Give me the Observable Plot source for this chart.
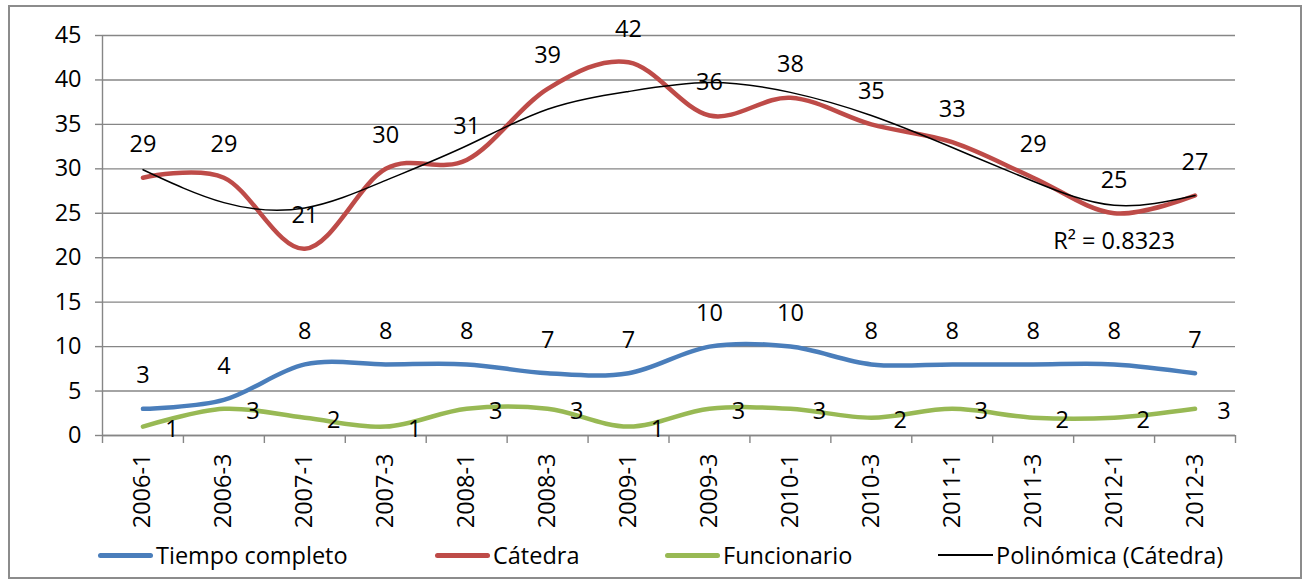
<!DOCTYPE html>
<html>
<head>
<meta charset="utf-8">
<script src="https://cdn.jsdelivr.net/npm/d3@7"></script>
<script src="https://cdn.jsdelivr.net/npm/@observablehq/plot@0.6"></script>
<style>
  html, body { margin: 0; padding: 0; background: #fff; }
  body { width: 1305px; height: 582px; position: relative; overflow: hidden; font-family: "Open Sans", sans-serif; }
  #frame { position: absolute; left: 8px; top: 5px; width: 1294px; height: 574px; border: 2px solid #8c8c8c; box-sizing: border-box; }
  #chart { position: absolute; left: 0; top: 0; }
  #legend { position: absolute; left: 0; top: 537px; width: 1305px; height: 36px; font-size: 23.5px; color: #000; }
  .item { position: absolute; top: 0; display: flex; align-items: center; height: 36px; white-space: nowrap; }
  .sw { width: 55px; height: 5px; border-radius: 3px; margin-right: 3px; }
</style>
</head>
<body>
<div id="frame"></div>
<div id="chart"></div>
<div id="legend"></div>
<script>
const categories = ["2006-1","2006-3","2007-1","2007-3","2008-1","2008-3","2009-1","2009-3","2010-1","2010-3","2011-1","2011-3","2012-1","2012-3"];
const tiempoCompleto = [3,4,8,8,8,7,7,10,10,8,8,8,8,7];
const catedra = [29,29,21,30,31,39,42,36,38,35,33,29,25,27];
const funcionario = [1,3,2,1,3,3,1,3,3,2,3,2,2,3];
const tendenciaCatedra = [29.9,26.2,25.6,28.7,32.6,36.7,38.7,39.7,38.6,36.0,32.4,28.6,25.9,27.0];
const yTicks = [0,5,10,15,20,25,30,35,40,45];
const seriesNames = ["Tiempo completo","Cátedra","Funcionario","Polinómica (Cátedra)"];
const seriesColors = ["#4a7ebb","#be4b48","#98b954","#000000"];
const r2Label = "R² = 0.8323";
const r2Anchor = {cat: "2012-1", value: 21.8};

const idx = categories.map((c, i) => i);
const rows = arr => arr.map((v, i) => ({i, v}));
const tc = rows(tiempoCompleto), ca = rows(catedra), fu = rows(funcionario), tr = rows(tendenciaCatedra);
const boundaries = d3.range(categories.length + 1).map(k => k - 0.5);
const xDomain = [-0.5, categories.length - 0.5];
const FS = 23.5;
const grid = "#868686";

const plot = Plot.plot({
  width: 1305,
  height: 537,
  marginLeft: 102,
  marginRight: 70,
  marginTop: 35,
  marginBottom: 102,
  style: {fontFamily: "'Open Sans', sans-serif", fontSize: FS + "px", color: "#000", background: "transparent", overflow: "visible"},
  x: {type: "linear", domain: xDomain},
  y: {domain: [0, 45]},
  marks: [
    Plot.gridY(yTicks, {stroke: grid, strokeOpacity: 1, strokeWidth: 1.4}),
    Plot.axisY(yTicks, {tickSize: 7, tickPadding: 14, stroke: grid, strokeWidth: 1.4, fill: "#000", fontSize: FS, label: null}),
    Plot.ruleX([xDomain[0]], {stroke: grid, strokeWidth: 1.4}),
    Plot.ruleY([0], {stroke: grid, strokeWidth: 1.4}),
    Plot.axisX(boundaries, {tickSize: 8, tickFormat: () => "", stroke: grid, strokeWidth: 1.4, label: null}),
    Plot.axisX(idx, {tickSize: 0, tickPadding: 18, tickRotate: -90, tickFormat: i => categories[i], fill: "#000", fontSize: FS, label: null}),
    Plot.line(tc, {x: "i", y: "v", stroke: seriesColors[0], strokeWidth: 4.5, curve: "cardinal", tension: 0}),
    Plot.line(ca, {x: "i", y: "v", stroke: seriesColors[1], strokeWidth: 4.5, curve: "cardinal", tension: 0}),
    Plot.line(fu, {x: "i", y: "v", stroke: seriesColors[2], strokeWidth: 4.5, curve: "cardinal", tension: 0}),
    Plot.line(tr, {x: "i", y: "v", stroke: seriesColors[3], strokeWidth: 1.5, curve: "natural"}),
    Plot.text(tc, {x: "i", y: "v", text: "v", dy: -33, fill: "#000", fontSize: FS}),
    Plot.text(ca, {x: "i", y: "v", text: "v", dy: -33, fill: "#000", fontSize: FS}),
    Plot.text(fu, {x: "i", y: "v", text: "v", dx: 29, dy: 3, fill: "#000", fontSize: FS}),
    Plot.text([r2Anchor], {x: d => categories.indexOf(d.cat), y: "value", text: () => r2Label, fill: "#000", fontSize: FS})
  ]
});
document.getElementById("chart").appendChild(plot);

const legendPos = [98, 435, 665, 938];
const legend = document.getElementById("legend");
seriesNames.forEach((name, k) => {
  const item = document.createElement("div");
  item.className = "item";
  item.style.left = legendPos[k] + "px";
  const sw = document.createElement("span");
  sw.className = "sw";
  sw.style.background = seriesColors[k];
  if (k === 3) { sw.style.height = "1.5px"; sw.style.borderRadius = "0"; }
  const t = document.createElement("span");
  t.textContent = name;
  item.appendChild(sw);
  item.appendChild(t);
  legend.appendChild(item);
});
</script>
</body>
</html>
